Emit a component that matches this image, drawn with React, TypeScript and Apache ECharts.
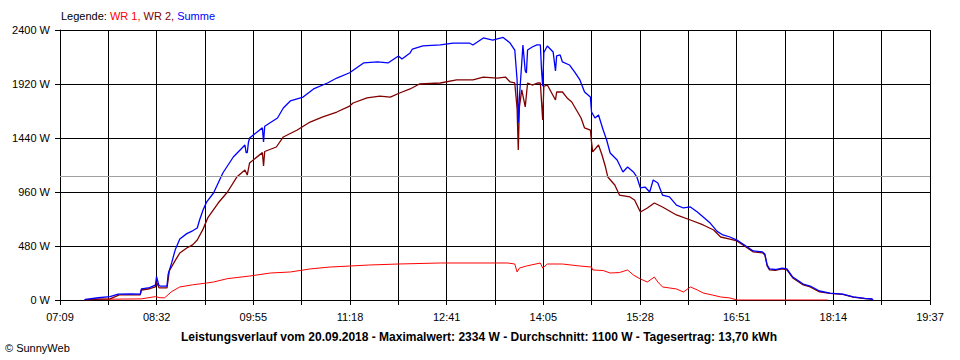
import React, { useEffect, useRef } from "react";
import * as echarts from "echarts";

// Time axis: 07:09 .. 19:37, 18 grid steps
const AXIS_START = "07:09";
const AXIS_END = "19:37";
const AXIS_STEPS = 18;
const Y_TICKS = [0, 480, 960, 1440, 1920, 2400];
const AVERAGE_W = 1100;

const TITLE =
  "Leistungsverlauf vom 20.09.2018 - Maximalwert: 2334 W - Durchschnitt: 1100 W - Tagesertrag: 13,70 kWh";

const WR1: [string, number][] = [
  ["07:30", 0], ["07:31", 5], ["08:19", 10], ["08:31", 30], ["08:35", 20], ["08:39", 20],
  ["08:45", 75], ["08:52", 116], ["09:03", 135], ["09:15", 151], ["09:21", 160], ["09:33", 190],
  ["09:52", 213], ["10:10", 240], ["10:27", 249], ["10:44", 276], ["11:01", 293], ["11:18", 302],
  ["11:35", 311], ["12:00", 320], ["12:36", 329], ["13:34", 329], ["13:40", 320], ["13:42", 249],
  ["13:44", 284], ["13:50", 302], ["14:02", 329], ["14:04", 284], ["14:08", 320], ["14:21", 320],
  ["14:36", 302], ["14:46", 293], ["14:47", 267], ["14:56", 262], ["15:02", 240], ["15:10", 244],
  ["15:17", 267], ["15:22", 222], ["15:28", 187], ["15:34", 160], ["15:40", 204], ["15:43", 160],
  ["15:47", 116], ["15:53", 107], ["15:59", 98], ["16:05", 71], ["16:11", 116], ["16:17", 89],
  ["16:22", 62], ["16:30", 44], ["16:37", 27], ["16:45", 18], ["16:51", 0], ["18:09", 0],
];

const WR2: [string, number][] = [
  ["07:31", 0], ["07:42", 8], ["07:52", 10], ["08:00", 45], ["08:18", 45], ["08:19", 89],
  ["08:26", 100], ["08:31", 116], ["08:32", 160], ["08:34", 110], ["08:35", 107], ["08:41", 107],
  ["08:43", 260], ["08:48", 350], ["08:52", 418], ["08:58", 462], ["09:03", 490], ["09:07", 533],
  ["09:12", 630], ["09:16", 729], ["09:25", 862], ["09:33", 960], ["09:41", 1093], ["09:48", 1156],
  ["09:50", 1111], ["09:52", 1218], ["10:03", 1310], ["10:04", 1191], ["10:05", 1320], ["10:15", 1360],
  ["10:21", 1449], ["10:33", 1511], ["10:44", 1582], ["10:55", 1627], ["11:07", 1671], ["11:18", 1724],
  ["11:21", 1751], ["11:33", 1796], ["11:44", 1813], ["11:53", 1804], ["12:01", 1840], ["12:10", 1876],
  ["12:18", 1920], ["12:36", 1929], ["12:50", 1956], ["13:04", 1956], ["13:13", 1982], ["13:25", 1973],
  ["13:32", 1982], ["13:36", 1938], ["13:40", 1929], ["13:42", 1700], ["13:43", 1333], ["13:44", 1716],
  ["13:46", 1867], ["13:49", 1716], ["13:51", 1929], ["13:55", 1911], ["14:00", 1929], ["14:02", 1929],
  ["14:04", 1600], ["14:05", 1900], ["14:08", 1911], ["14:15", 1778], ["14:16", 1849], ["14:21", 1849],
  ["14:25", 1796], ["14:29", 1760], ["14:33", 1689], ["14:37", 1618], ["14:40", 1529], ["14:45", 1511],
  ["14:46", 1404], ["14:47", 1316], ["14:52", 1378], ["14:55", 1289], ["14:58", 1182], ["15:00", 1093],
  ["15:06", 1022], ["15:10", 933], ["15:19", 916], ["15:23", 889], ["15:28", 782], ["15:34", 818],
  ["15:40", 862], ["15:47", 827], ["15:59", 756], ["16:11", 711], ["16:22", 667], ["16:31", 622],
  ["16:37", 560], ["16:45", 542], ["16:51", 525], ["17:00", 463], ["17:05", 428], ["17:13", 419],
  ["17:15", 401], ["17:17", 303], ["17:19", 268], ["17:24", 263], ["17:30", 276], ["17:34", 268],
  ["17:39", 196], ["17:48", 134], ["17:54", 116], ["18:02", 72], ["18:11", 58], ["18:22", 50],
  ["18:31", 25], ["18:41", 13], ["18:47", 8], ["18:48", 0],
];

const SUMME: [string, number][] = [
  ["07:30", 0], ["07:31", 5], ["07:42", 20], ["07:52", 30], ["07:59", 53], ["08:10", 55],
  ["08:18", 53], ["08:19", 98], ["08:26", 110], ["08:31", 133], ["08:32", 207], ["08:34", 130],
  ["08:35", 124], ["08:41", 124], ["08:42", 230], ["08:45", 330], ["08:48", 444], ["08:52", 542],
  ["08:58", 590], ["09:03", 615], ["09:07", 640], ["09:09", 711], ["09:12", 800], ["09:15", 870],
  ["09:21", 951], ["09:29", 1129], ["09:38", 1271], ["09:48", 1378], ["09:49", 1310], ["09:50", 1310],
  ["09:51", 1400], ["09:52", 1440], ["10:03", 1530], ["10:04", 1404], ["10:05", 1545], ["10:16", 1618],
  ["10:21", 1707], ["10:27", 1769], ["10:38", 1804], ["10:47", 1876], ["10:59", 1929], ["11:07", 1973],
  ["11:18", 2020], ["11:30", 2107], ["11:42", 2116], ["11:51", 2107], ["12:00", 2169], ["12:03", 2142],
  ["12:10", 2196], ["12:12", 2231], ["12:21", 2258], ["12:36", 2267], ["12:47", 2284], ["13:01", 2284],
  ["13:04", 2267], ["13:13", 2329], ["13:21", 2311], ["13:30", 2334], ["13:36", 2284], ["13:40", 2222],
  ["13:42", 1956], ["13:43", 1573], ["13:44", 1804], ["13:46", 2107], ["13:47", 2267], ["13:49", 2036],
  ["13:50", 2018], ["13:51", 2222], ["13:55", 2249], ["13:59", 2267], ["14:02", 2267], ["14:03", 2044],
  ["14:04", 1900], ["14:05", 2200], ["14:08", 2258], ["14:13", 2204], ["14:15", 2036], ["14:16", 2170],
  ["14:19", 2178], ["14:21", 2116], ["14:27", 2089], ["14:32", 2018], ["14:36", 1956], ["14:40", 1849],
  ["14:45", 1804], ["14:46", 1671], ["14:49", 1618], ["14:52", 1644], ["14:56", 1511], ["14:59", 1422],
  ["15:02", 1307], ["15:08", 1244], ["15:13", 1138], ["15:17", 1182], ["15:22", 1138], ["15:25", 1093],
  ["15:28", 996], ["15:32", 1004], ["15:36", 960], ["15:39", 1067], ["15:43", 1040], ["15:47", 933],
  ["15:53", 916], ["15:59", 844], ["16:05", 818], ["16:11", 827], ["16:17", 782], ["16:22", 738],
  ["16:28", 684], ["16:34", 610], ["16:39", 578], ["16:45", 560], ["16:51", 533], ["17:00", 471],
  ["17:05", 436], ["17:13", 427], ["17:15", 409], ["17:17", 311], ["17:19", 276], ["17:24", 271],
  ["17:30", 284], ["17:34", 276], ["17:39", 204], ["17:48", 142], ["17:54", 124], ["18:02", 80],
  ["18:11", 62], ["18:22", 53], ["18:31", 27], ["18:41", 15], ["18:47", 9], ["18:48", 0],
];

const toMin = (t: string) => {
  const [h, m] = t.split(":").map(Number);
  return h * 60 + m;
};
const T0 = toMin(AXIS_START);
const STEP = (toMin(AXIS_END) - T0) / AXIS_STEPS;
const toX = (t: string) => (toMin(t) - T0) / STEP;
const fmtTime = (v: number) => {
  const m = Math.round(T0 + v * STEP);
  const hh = Math.floor(m / 60);
  const mm = m % 60;
  return `${String(hh).padStart(2, "0")}:${String(mm).padStart(2, "0")}`;
};
const conv = (arr: [string, number][]) => arr.map(([t, v]) => [toX(t), v]);

const FONT = "'Liberation Sans', Arial, sans-serif";

export default function App() {
  const ref = useRef<HTMLDivElement>(null);
  useEffect(() => {
    if (!ref.current) return;
    const chart = echarts.init(ref.current, undefined, { renderer: "svg" });
    chart.setOption({
      animation: false,
      backgroundColor: "#ffffff",
      grid: { left: 60, right: 30, top: 30, height: 270, containLabel: false },
      xAxis: {
        type: "value",
        min: 0,
        max: AXIS_STEPS,
        interval: 1,
        axisLine: { show: true, lineStyle: { color: "#000", width: 1 } },
        axisTick: { show: true, length: 5, lineStyle: { color: "#000" } },
        splitLine: { show: true, lineStyle: { color: "#000", width: 1 } },
        axisLabel: {
          margin: 11,
          color: "#000",
          fontFamily: FONT,
          fontSize: 11,
          formatter: (v: number) => (Math.round(v) % 2 === 0 ? fmtTime(v) : ""),
        },
      },
      yAxis: {
        type: "value",
        min: Y_TICKS[0],
        max: Y_TICKS[Y_TICKS.length - 1],
        interval: Y_TICKS[1] - Y_TICKS[0],
        axisLine: { show: true, lineStyle: { color: "#000", width: 1 } },
        axisTick: { show: true, length: 5, lineStyle: { color: "#000" } },
        splitLine: { show: true, lineStyle: { color: "#000", width: 1 } },
        axisLabel: {
          margin: 10,
          color: "#000",
          fontFamily: FONT,
          fontSize: 11,
          formatter: (v: number) => `${v} W`,
        },
      },
      graphic: [
        {
          type: "text",
          left: 61,
          top: 10,
          style: {
            text: "{k|Legende: }{r|WR 1, }{d|WR 2, }{b|Summe}",
            font: `11px ${FONT}`,
            rich: {
              k: { fill: "#000", fontSize: 11, fontFamily: FONT },
              r: { fill: "#ff0000", fontSize: 11, fontFamily: FONT },
              d: { fill: "#800000", fontSize: 11, fontFamily: FONT },
              b: { fill: "#0000ff", fontSize: 11, fontFamily: FONT },
            },
          },
        },
        {
          type: "text",
          x: 479,
          y: 337,
          style: {
            text: TITLE,
            fill: "#000",
            font: `bold 12px ${FONT}`,
            textAlign: "center",
            textVerticalAlign: "middle",
          },
        },
        {
          type: "text",
          x: 5,
          y: 348,
          style: {
            text: "© SunnyWeb",
            fill: "#000",
            font: `11px ${FONT}`,
            textVerticalAlign: "middle",
          },
        },
      ],
      series: [
        {
          name: "WR 1",
          type: "line",
          data: conv(WR1),
          symbol: "none",
          lineStyle: { color: "#ff0000", width: 1 },
          itemStyle: { color: "#ff0000" },
          markLine: {
            silent: true,
            symbol: "none",
            label: { show: false },
            lineStyle: { color: "#a0a0a0", type: "solid", width: 1 },
            data: [{ yAxis: AVERAGE_W }],
          },
        },
        {
          name: "WR 2",
          type: "line",
          data: conv(WR2),
          symbol: "none",
          lineStyle: { color: "#800000", width: 1.3 },
          itemStyle: { color: "#800000" },
        },
        {
          name: "Summe",
          type: "line",
          data: conv(SUMME),
          symbol: "none",
          lineStyle: { color: "#0000ff", width: 1.3 },
          itemStyle: { color: "#0000ff" },
        },
      ],
    });
    return () => chart.dispose();
  }, []);
  return (
    <div
      ref={ref}
      style={{ position: "absolute", left: 0, top: 0, width: 960, height: 360 }}
    />
  );
}
